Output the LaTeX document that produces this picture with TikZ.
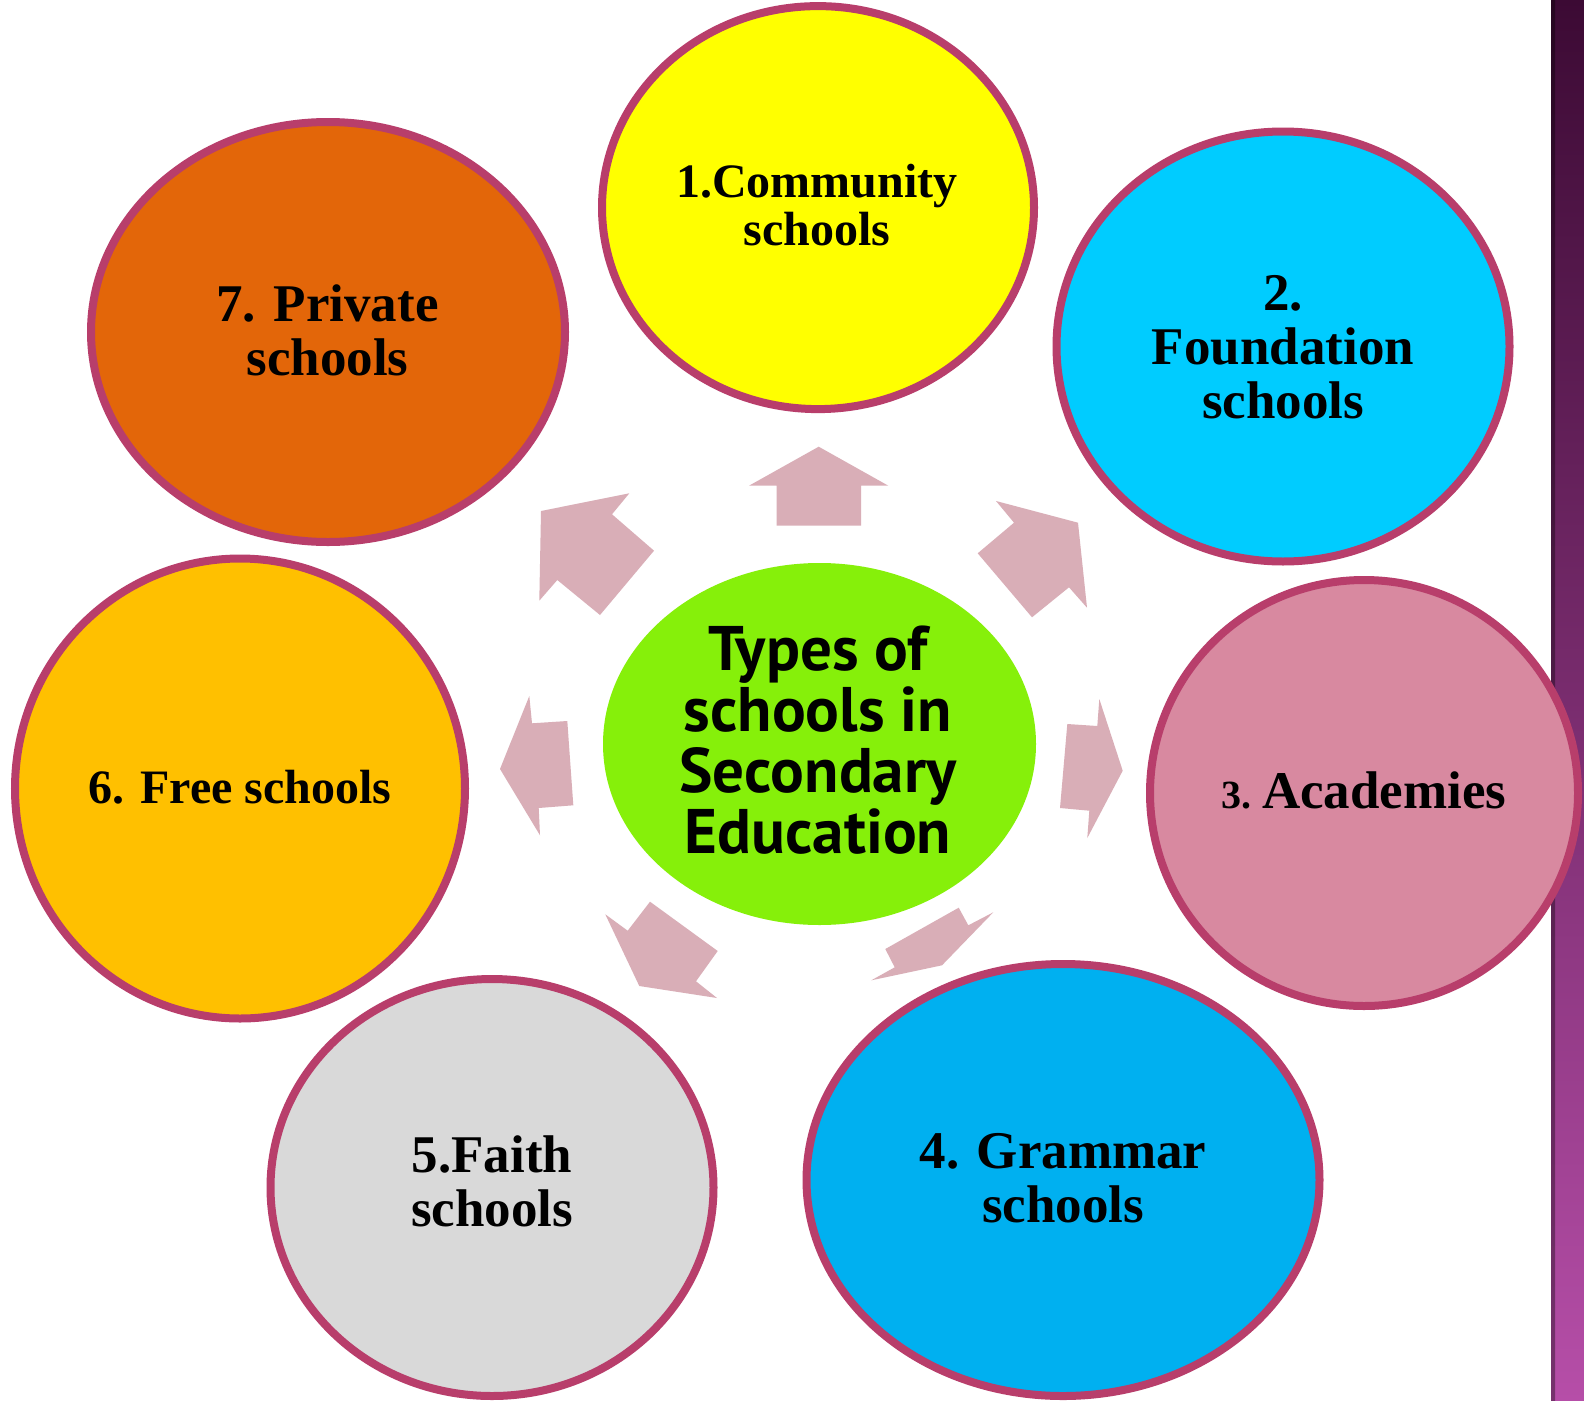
\documentclass[tikz,border=0pt]{standalone}
\usepackage{fontspec}
\setmainfont{Liberation Serif}
\newfontfamily\cfont{PT Sans}
\usetikzlibrary{shapes.geometric}
\definecolor{ring}{RGB}{184,62,107}
\definecolor{arrowc}{RGB}{217,174,183}
\definecolor{cyellow}{RGB}{255,255,0}
\definecolor{ccyan}{RGB}{0,204,255}
\definecolor{cpink}{RGB}{216,137,160}
\definecolor{cblue}{RGB}{0,176,240}
\definecolor{cgrey}{RGB}{217,217,217}
\definecolor{camber}{RGB}{255,192,0}
\definecolor{corange}{RGB}{227,102,9}
\definecolor{cgreen}{RGB}{134,240,10}
\definecolor{stripTop}{RGB}{60,10,52}
\definecolor{stripBot}{RGB}{182,78,168}
\tikzset{
  outer/.style={ellipse, draw=ring, line width=8pt, inner sep=0pt},
  lbl/.style={font=\bfseries\fontsize{53}{54}\selectfont, align=center, anchor=base, inner sep=0pt},
  lbls/.style={font=\bfseries\fontsize{48}{48}\selectfont, align=center, anchor=base, inner sep=0pt},
  blockarrow/.style={fill=arrowc, draw=none}
}
\begin{document}
\begin{tikzpicture}[x=1pt,y=-1pt]
\useasboundingbox (0,0) rectangle (1584,1400);
\fill[white] (0,0) rectangle (1584,1400);
% right strip
\shade[top color=stripTop, bottom color=stripBot] (1551,0) rectangle (1584,1400);
\shade[left color=black, right color=black, opacity=0.35] (1551,0) rectangle (1555,1400);
% arrows
\fill[blockarrow] (818.7,446.7) -- (888.3,485.7) -- (861,485.7) -- (861,525.7) -- (776.7,525.7) -- (776.7,485.7) -- (749,485.7) -- cycle;
\fill[blockarrow] (996,501) -- (1078,522.7) -- (1087,607.7) -- (1069,587.3) -- (1032,617.3) -- (977.7,553.3) -- (1014,522.7) -- cycle;
\fill[blockarrow] (1099.3,699) -- (1122.7,770.7) -- (1087.3,838) -- (1089.3,810.7) -- (1060,808) -- (1067.3,724) -- (1097.3,726) -- cycle;
\fill[blockarrow] (958.7,907.7) -- (968.3,925.3) -- (993.3,912.3) -- (942,965.3) -- (871.3,980.3) -- (894.7,967.3) -- (885.3,949) -- cycle;
\fill[blockarrow] (650,901.7) -- (717.7,951) -- (696,981.3) -- (717,998) -- (639.3,986) -- (605.3,914.3) -- (627.7,930.7) -- cycle;
\fill[blockarrow] (529.3,696) -- (532,723.3) -- (567.3,721) -- (573.3,805.3) -- (538.7,808) -- (540,835.3) -- (500,769) -- cycle;
\fill[blockarrow] (629.3,493.3) -- (612,514.3) -- (654,550.7) -- (600,615) -- (557.3,580) -- (539.3,600.7) -- (541,511) -- cycle;
% center
\node[ellipse, fill=cgreen, minimum width=433pt, minimum height=362pt, inner sep=0pt] (c) at (819.5,744) {};
\node[font=\cfont\bfseries\fontsize{63}{61}\selectfont, align=center, anchor=base, inner sep=0pt] (ct) at (818,853) {Types of\\schools in\\Secondary\\Education};
% outer ellipses
\node[outer, fill=cyellow, minimum width=432pt, minimum height=403pt] (n1) at (818,207.6) {};
\node[outer, fill=ccyan, minimum width=453pt, minimum height=430pt] (n2) at (1283,346.5) {};
\node[outer, fill=cpink, minimum width=428pt, minimum height=426pt] (n3) at (1364,793) {};
\node[outer, fill=cblue, minimum width=513pt, minimum height=432pt] (n4) at (1063,1180) {};
\node[outer, fill=cgrey, minimum width=443pt, minimum height=417pt] (n5) at (492,1187.5) {};
\node[outer, fill=camber, minimum width=450pt, minimum height=460pt] (n6) at (240,788.5) {};
\node[outer, fill=corange, minimum width=474pt, minimum height=420pt] (n7) at (328,332) {};
% labels
\node[lbls] (t1) at (817,245.5) {1.Community\\schools};
\node[lbl] (t2) at (1283,418) {2.\\Foundation\\schools};
\node[lbl] (t3) at (1364,808) {{\fontsize{40}{40}\selectfont 3.}\hspace{0.2em}Academies};
\node[lbl] (t4) at (1063,1222) {4. Grammar\\schools};
\node[lbl] (t5) at (492,1226) {5.Faith\\schools};
\node[lbls] (t6) at (240,803) {6. Free schools};
\node[lbl] (t7) at (327.5,375) {7. Private\\schools};
\end{tikzpicture}
\end{document}
